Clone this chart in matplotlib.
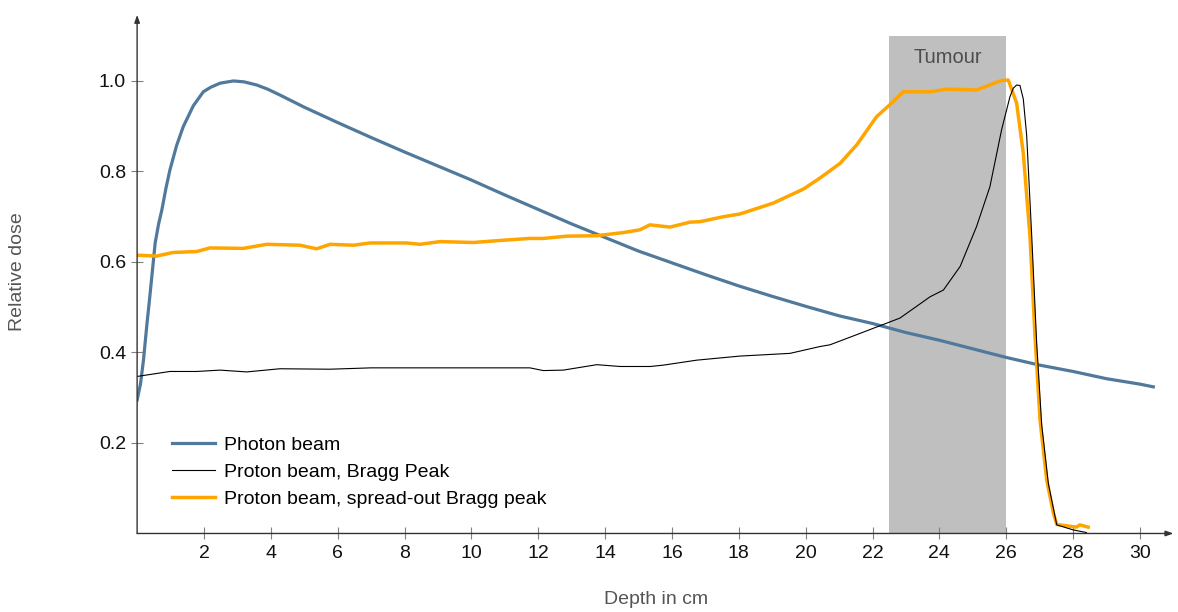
import matplotlib
matplotlib.use("Agg")
import matplotlib.pyplot as plt
from matplotlib.patches import Rectangle

plt.rcParams["font.family"] = ["Liberation Sans", "DejaVu Sans"]

# Depth-dose curves (depth in cm, relative dose)
photon_depth = [0.0, 0.1, 0.19, 0.29, 0.39, 0.54, 0.64, 0.74, 0.86, 0.98, 1.18, 1.38,
                1.68, 1.98, 2.2, 2.48, 2.88, 3.2, 3.58, 3.9,
                4.27, 5.0, 6.0, 7.0, 8.0, 9.0, 10.0, 11.0, 12.0, 13.0, 14.0, 15.0,
                16.0, 17.0, 18.0, 19.0, 20.0, 21.0, 22.0, 23.0, 24.0, 25.0, 26.0,
                27.0, 28.0, 29.0, 30.0, 30.4]
photon_dose = [0.295, 0.330, 0.383, 0.460, 0.531, 0.642, 0.683, 0.715, 0.762, 0.803, 0.857, 0.899,
               0.945, 0.976, 0.986, 0.995, 1.0, 0.998, 0.991, 0.982,
               0.969, 0.942, 0.908, 0.875, 0.843, 0.812, 0.781, 0.748, 0.716, 0.684, 0.654, 0.624,
               0.598, 0.572, 0.547, 0.524, 0.502, 0.481, 0.464, 0.444, 0.427, 0.408, 0.389,
               0.372, 0.358, 0.342, 0.330, 0.324]

bragg_depth = [0.0, 0.98, 1.78, 2.48, 3.28, 4.27, 5.77, 7.0, 9.0, 11.75, 12.15, 12.75,
               13.75, 14.45, 15.35, 15.74, 16.74, 18.03, 19.53, 20.42, 20.73, 21.62,
               22.82, 23.72, 24.12, 24.62, 25.11, 25.51, 25.86, 26.11, 26.21, 26.31, 26.41,
               26.51, 26.61, 26.76, 26.91, 27.06, 27.26, 27.51, 28.0, 28.4]
bragg_dose = [0.347, 0.358, 0.358, 0.361, 0.357, 0.364, 0.363, 0.366, 0.366, 0.366, 0.360, 0.361,
              0.373, 0.369, 0.369, 0.372, 0.383, 0.392, 0.398, 0.413, 0.417, 0.442,
              0.476, 0.523, 0.538, 0.590, 0.678, 0.766, 0.892, 0.965, 0.984, 0.991, 0.990,
              0.960, 0.880, 0.660, 0.420, 0.240, 0.110, 0.019, 0.008, 0.002]

sobp_depth = [0.0, 0.58, 1.08, 1.78, 2.18, 3.18, 3.88, 4.87, 5.37, 5.77, 6.47, 6.97,
              8.06, 8.46, 9.06, 10.06, 10.76, 11.75, 12.15, 12.85, 13.75, 14.55, 15.04,
              15.34, 15.94, 16.54, 16.84, 17.54, 18.03, 19.03, 19.93, 20.42, 21.03,
              21.53, 22.12, 22.57, 22.92, 23.72, 24.22, 25.11, 25.86, 26.06, 26.31,
              26.51, 26.71, 26.86, 27.01, 27.21, 27.41, 27.51, 28.1, 28.2, 28.45]
sobp_dose = [0.615, 0.613, 0.621, 0.623, 0.631, 0.630, 0.639, 0.637, 0.629, 0.639, 0.637, 0.642,
             0.642, 0.639, 0.645, 0.643, 0.647, 0.652, 0.652, 0.657, 0.658, 0.665, 0.671,
             0.682, 0.677, 0.688, 0.689, 0.700, 0.706, 0.730, 0.761, 0.785, 0.818,
             0.859, 0.921, 0.951, 0.976, 0.976, 0.982, 0.980, 1.001, 1.002, 0.951,
             0.840, 0.656, 0.435, 0.251, 0.118, 0.045, 0.020, 0.014, 0.019, 0.014]

tumour_start, tumour_end, tumour_top = 22.5, 26.0, 1.10

xticks = list(range(2, 31, 2))
yticks = [0.2, 0.4, 0.6, 0.8, 1.0]

fig = plt.figure(figsize=(11.78, 6.12), dpi=100)
ax = fig.add_axes([0.1164, 0.1283, 0.8797, 0.8474])
ax.set_xlim(0, 31)
ax.set_ylim(0, 1.146)

# Target volume
ax.add_patch(Rectangle((tumour_start, 0), tumour_end - tumour_start, tumour_top,
                       facecolor="#bfbfbf", edgecolor="none", zorder=1))
ax.text((tumour_start + tumour_end) / 2, 1.051, "Tumour", ha="center", va="center",
        fontsize=14.5, color="#4d4d4d", zorder=2)

ax.plot(photon_depth, photon_dose, color="#51799b", lw=2.3, label="Photon beam",
        zorder=3, solid_joinstyle="round")
ax.plot(bragg_depth, bragg_dose, color="black", lw=0.8, label="Proton beam, Bragg Peak",
        zorder=4, solid_joinstyle="round")
ax.plot(sobp_depth, sobp_dose, color="#ffa500", lw=2.5,
        label="Proton beam, spread-out Bragg peak", zorder=3, solid_joinstyle="round")

# Axes with arrow heads
for s in ax.spines.values():
    s.set_visible(False)
arrow = dict(arrowstyle="-|>,head_length=0.45,head_width=0.16", color="#333333",
             lw=1.0, shrinkA=0, shrinkB=0)
ax.annotate("", xy=(1, 0), xytext=(0, 0), xycoords="axes fraction",
            textcoords="axes fraction", arrowprops=arrow, zorder=5)
ax.annotate("", xy=(0, 1), xytext=(0, 0), xycoords="axes fraction",
            textcoords="axes fraction", arrowprops=arrow, zorder=5)

ax.set_xticks(xticks)
ax.set_xticklabels([str(t) for t in xticks])
ax.set_yticks(yticks)
ax.set_yticklabels([f"{t:.1f}" for t in yticks])
ax.tick_params(direction="inout", length=8, width=0.8, color="#808080",
               labelsize=14, labelcolor="#111111", pad=4)

fig.text(0.5566, 1 - 600 / 612, "Depth in cm", ha="center", va="center",
         fontsize=14, color="#555555")
fig.text(18 / 1178, 1 - 272 / 612, "Relative dose", ha="center", va="center",
         rotation=90, fontsize=14, color="#555555")

ax.legend(loc="upper left", bbox_to_anchor=(0.034, 0.188), frameon=False,
          fontsize=14, handlelength=2.2, handletextpad=0.45, labelspacing=0.5,
          borderpad=0, borderaxespad=0)

fig.savefig("out.png", dpi=100)
